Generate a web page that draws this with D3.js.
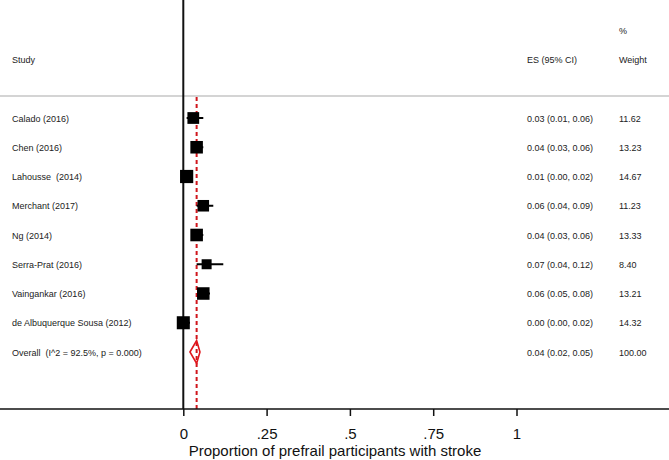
<!DOCTYPE html>
<html>
<head>
<meta charset="utf-8">
<script src="https://cdn.jsdelivr.net/npm/d3@7"></script>
<style>
  body { margin: 0; background: #fff; }
  svg { display: block; font-family: "Liberation Sans", Arial, sans-serif; }
</style>
</head>
<body>
<div id="chart"></div>
<script>
// Study rows (top to bottom)
const studies = [
  "Calado (2016)",
  "Chen (2016)",
  "Lahousse  (2014)",
  "Merchant (2017)",
  "Ng (2014)",
  "Serra-Prat (2016)",
  "Vaingankar (2016)",
  "de Albuquerque Sousa (2012)",
];
const es = [0.03, 0.04, 0.01, 0.06, 0.04, 0.07, 0.06, 0.0];
const ciLow = [0.01, 0.03, 0.0, 0.04, 0.03, 0.04, 0.05, 0.0];
const ciHigh = [0.06, 0.06, 0.02, 0.09, 0.06, 0.12, 0.08, 0.02];
const weights = [11.62, 13.23, 14.67, 11.23, 13.33, 8.4, 13.21, 14.32];

// Pooled estimate
const overallLabel = "Overall  (I^2 = 92.5%, p = 0.000)";
const overall = { es: 0.04, lo: 0.02, hi: 0.05, weight: 100.0 };

const xTicks = [0, 0.25, 0.5, 0.75, 1];
const xTickLabels = ["0", ".25", ".5", ".75", "1"];
const xTitle = "Proportion of prefrail participants with stroke";

const width = 669;
const height = 460;
const fmt = d3.format(".2f");

const rows = studies.concat([overallLabel]);

const x = d3.scaleLinear().domain([0, 1]).range([183.3, 516.5]);
const y = d3.scalePoint().domain(rows).range([118, 352]);
const side = d3.scaleSqrt().domain([0, 14.67]).range([0, 13.2]);

const axisY = 409;
const esX = 527;
const wX = 619;

const svg = d3
  .select("#chart")
  .append("svg")
  .attr("width", width)
  .attr("height", height);

svg.append("rect").attr("width", width).attr("height", height).attr("fill", "#fff");

// header
const header = svg.append("g").attr("font-size", 9).attr("fill", "#222");
header.append("text").attr("x", 12).attr("y", 63).text("Study");
header.append("text").attr("x", esX).attr("y", 63).text("ES (95% CI)");
header.append("text").attr("x", wX).attr("y", 34).text("%");
header.append("text").attr("x", wX).attr("y", 63).text("Weight");

// separator under header
svg
  .append("line")
  .attr("x1", 0)
  .attr("x2", width)
  .attr("y1", 96)
  .attr("y2", 96)
  .attr("stroke", "#aaa")
  .attr("stroke-width", 1.2);

// null line at zero
svg
  .append("line")
  .attr("x1", x(0))
  .attr("x2", x(0))
  .attr("y1", 0)
  .attr("y2", axisY)
  .attr("stroke", "#111")
  .attr("stroke-width", 2);

// pooled estimate line
svg
  .append("line")
  .attr("x1", x(overall.es))
  .attr("x2", x(overall.es))
  .attr("y1", 97)
  .attr("y2", axisY)
  .attr("stroke", "#d0161c")
  .attr("stroke-width", 2)
  .attr("stroke-dasharray", "4,3");

const data = studies.map((s, i) => ({
  study: s,
  es: es[i],
  lo: ciLow[i],
  hi: ciHigh[i],
  w: weights[i],
}));

// CI whiskers
svg
  .append("g")
  .selectAll("line")
  .data(data)
  .enter()
  .append("line")
  .attr("x1", (d) => x(d.lo))
  .attr("x2", (d) => x(d.hi))
  .attr("y1", (d) => y(d.study))
  .attr("y2", (d) => y(d.study))
  .attr("stroke", "#000")
  .attr("stroke-width", 2);

// weight boxes
svg
  .append("g")
  .selectAll("rect")
  .data(data)
  .enter()
  .append("rect")
  .attr("x", (d) => x(d.es) - side(d.w) / 2)
  .attr("y", (d) => y(d.study) - side(d.w) / 2)
  .attr("width", (d) => side(d.w))
  .attr("height", (d) => side(d.w))
  .attr("fill", "#000");

// overall diamond
const oy = y(overallLabel);
svg
  .append("path")
  .attr(
    "d",
    `M${x(overall.lo)},${oy}L${x(overall.es)},${oy - 11.5}L${x(overall.hi)},${oy}L${x(overall.es)},${oy + 11.5}Z`
  )
  .attr("fill", "none")
  .attr("stroke", "#e0161c")
  .attr("stroke-width", 1.6);

// table text
const table = svg.append("g").attr("font-size", 9).attr("fill", "#222");
table
  .selectAll("text.study")
  .data(rows)
  .enter()
  .append("text")
  .attr("class", "study")
  .attr("x", 12)
  .attr("y", (d) => y(d) + 3.5)
  .attr("xml:space", "preserve")
  .style("white-space", "pre")
  .text((d) => d);

const allRows = data.concat([
  { study: overallLabel, es: overall.es, lo: overall.lo, hi: overall.hi, w: overall.weight },
]);

table
  .selectAll("text.es")
  .data(allRows)
  .enter()
  .append("text")
  .attr("class", "es")
  .attr("x", esX)
  .attr("y", (d) => y(d.study) + 3.5)
  .text((d) => `${fmt(d.es)} (${fmt(d.lo)}, ${fmt(d.hi)})`);

table
  .selectAll("text.w")
  .data(allRows)
  .enter()
  .append("text")
  .attr("class", "w")
  .attr("x", wX)
  .attr("y", (d) => y(d.study) + 3.5)
  .text((d) => fmt(d.w));

// x axis
const axis = d3
  .axisBottom(x)
  .tickValues(xTicks)
  .tickFormat((d, i) => xTickLabels[i])
  .tickSize(7)
  .tickPadding(12);

const gx = svg.append("g").attr("transform", `translate(0,${axisY})`).call(axis);
gx.select(".domain").remove();
gx.selectAll(".tick line").attr("stroke", "#111").attr("stroke-width", 1.5);
gx.selectAll(".tick text")
  .attr("font-size", 15)
  .attr("font-family", "'Liberation Sans', Arial, sans-serif")
  .attr("fill", "#111");

svg
  .append("line")
  .attr("x1", 0)
  .attr("x2", width)
  .attr("y1", axisY)
  .attr("y2", axisY)
  .attr("stroke", "#111")
  .attr("stroke-width", 1.5);

svg
  .append("text")
  .attr("x", 335)
  .attr("y", 456)
  .attr("text-anchor", "middle")
  .attr("font-size", 15)
  .attr("fill", "#111")
  .text(xTitle);
</script>
</body>
</html>
